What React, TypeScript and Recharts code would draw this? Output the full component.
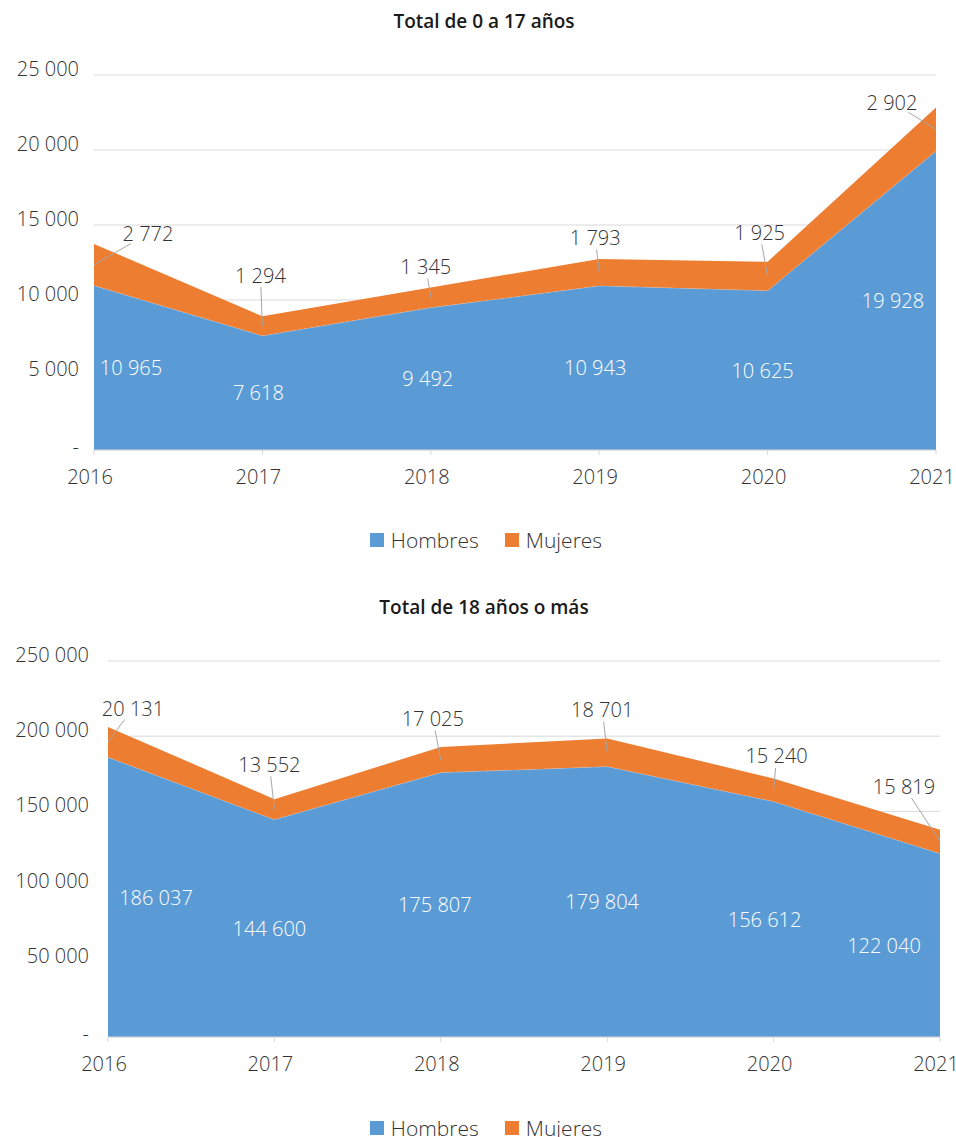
import React from "react";
import { ComposedChart, Area, Line, XAxis, YAxis, CartesianGrid } from "recharts";

const years = ["2016", "2017", "2018", "2019", "2020", "2021"];

const hombresMenores = [10965, 7618, 9492, 10943, 10625, 19928];
const mujeresMenores = [2772, 1294, 1345, 1793, 1925, 2902];
const ticksMenores = [0, 5000, 10000, 15000, 20000, 25000];

const hombresAdultos = [186037, 144600, 175807, 179804, 156612, 122040];
const mujeresAdultos = [20131, 13552, 17025, 18701, 15240, 15819];
const ticksAdultos = [0, 50000, 100000, 150000, 200000, 250000];

const BLUE = "#5B9BD5";
const ORANGE = "#ED7D31";
const TEXT = "#333333";
const GRID = "#d9d9d9";
const FONT = "'Open Sans', 'Noto Sans', sans-serif";

const fmt = (n: number) =>
  n === 0 ? "-" : String(n).replace(/\B(?=(\d{3})+(?!\d))/g, " ");

type ChartProps = {
  title: string;
  top: number;
  height: number;
  margin: { top: number; right: number; bottom: number; left: number };
  yWidth: number;
  yTickMargin: number;
  hombres: number[];
  mujeres: number[];
  ticks: number[];
  hombresDx: number[];
  mujeresOffset: [number, number][];
  titleY: number;
  legendY: number;
};

function StackedChart(p: ChartProps) {
  const data = years.map((year, i) => ({
    year,
    hombres: p.hombres[i],
    mujeres: p.mujeres[i],
  }));

  const YTick = (props: any) => {
    const { x, y, payload } = props;
    const v = payload.value as number;
    return (
      <text
        x={x}
        y={y + (v === 0 ? 4 : 1)}
        textAnchor="end"
        fill={TEXT}
        fontSize={20}
        fontFamily={FONT}
        fontWeight={300}
      >
        {fmt(v)}
      </text>
    );
  };

  const XTick = (props: any) => {
    const { x, y, payload } = props;
    return (
      <text
        x={x - 4}
        y={y}
        dy={19}
        textAnchor="middle"
        dominantBaseline="central"
        fill={TEXT}
        fontSize={20}
        fontFamily={FONT}
        fontWeight={300}
      >
        {payload.value}
      </text>
    );
  };

  const hombresLabel = (props: any) => {
    const { x, y, index } = props;
    return (
      <text
        key={`h-${index}`}
        x={x + p.hombresDx[index]}
        y={y}
        textAnchor="middle"
        dominantBaseline="central"
        fill="#ffffff"
        fontSize={20}
        fontFamily={FONT}
        fontWeight={300}
      >
        {fmt(p.hombres[index])}
      </text>
    );
  };

  const mujeresLabel = (props: any) => {
    const { x, y, index } = props;
    const [dx, dy] = p.mujeresOffset[index];
    const cx = x + dx;
    const cy = y + dy;
    const t = 1 / Math.sqrt((dx / 30) ** 2 + (dy / 12) ** 2);
    const ex = cx - dx * t;
    const ey = cy - dy * t;
    return (
      <g key={`m-${index}`}>
        <line x1={x} y1={y} x2={ex} y2={ey} stroke="#a6a6a6" strokeWidth={1} />
        <text
          x={cx}
          y={cy}
          textAnchor="middle"
          dominantBaseline="central"
          fill={TEXT}
          fontSize={20}
          fontFamily={FONT}
          fontWeight={300}
        >
          {fmt(p.mujeres[index])}
        </text>
      </g>
    );
  };

  const legendItem = (color: string, label: string) => (
    <div style={{ display: "flex", alignItems: "center", margin: "0 13px" }}>
      <div style={{ width: 14, height: 14, background: color, marginRight: 7 }} />
      <span>{label}</span>
    </div>
  );

  return (
    <div style={{ position: "absolute", left: 0, top: p.top, width: 956, height: p.height }}>
      <div
        style={{
          position: "absolute",
          left: 0,
          width: 968,
          top: p.titleY - p.top - 12,
          textAlign: "center",
          fontFamily: FONT,
          fontWeight: 600,
          fontSize: 19,
          color: "#1a1a1a",
          lineHeight: "24px",
        }}
      >
        {p.title}
      </div>
      <ComposedChart width={956} height={p.height} data={data} margin={p.margin}>
        <CartesianGrid horizontal vertical={false} stroke={GRID} strokeWidth={1} />
        <XAxis
          dataKey="year"
          scale="point"
          stroke={GRID}
          tickSize={5}
          tick={<XTick />}
          height={30}
          interval={0}
        />
        <YAxis
          domain={[0, p.ticks[p.ticks.length - 1]]}
          ticks={p.ticks}
          width={p.yWidth}
          axisLine={false}
          tickLine={false}
          tickSize={0}
          tickMargin={p.yTickMargin}
          tick={<YTick />}
        />
        <Area
          type="linear"
          dataKey="hombres"
          stackId="a"
          fill={BLUE}
          fillOpacity={1}
          stroke="#ffffff"
          strokeOpacity={0.5}
          strokeWidth={0.6}
          isAnimationActive={false}
        />
        <Area
          type="linear"
          dataKey="mujeres"
          stackId="a"
          fill={ORANGE}
          fillOpacity={1}
          stroke="none"
          isAnimationActive={false}
        />
        <Line
          dataKey={(d: any) => d.hombres / 2}
          stroke="none"
          dot={false}
          activeDot={false}
          legendType="none"
          label={hombresLabel}
          isAnimationActive={false}
        />
        <Line
          dataKey={(d: any) => d.hombres + d.mujeres / 2}
          stroke="none"
          dot={false}
          activeDot={false}
          legendType="none"
          label={mujeresLabel}
          isAnimationActive={false}
        />
      </ComposedChart>
      <div
        style={{
          position: "absolute",
          left: 0,
          width: 972,
          top: p.legendY - p.top - 12,
          display: "flex",
          justifyContent: "center",
          fontFamily: FONT,
          fontWeight: 300,
          fontSize: 21,
          color: TEXT,
          lineHeight: "24px",
        }}
      >
        {legendItem(BLUE, "Hombres")}
        {legendItem(ORANGE, "Mujeres")}
      </div>
    </div>
  );
}

export default function App() {
  return (
    <div style={{ position: "absolute", left: 0, top: 0, width: 956, height: 1137, background: "#fff" }}>
      <StackedChart
        title="Total de 0 a 17 años"
        top={0}
        height={565}
        margin={{ top: 75, right: 20, bottom: 85, left: 0 }}
        yWidth={94}
        yTickMargin={15}
        hombres={hombresMenores}
        mujeres={mujeresMenores}
        ticks={ticksMenores}
        hombresDx={[37, -4, -3, -4, -5, -43]}
        mujeresOffset={[[54, -31], [-2, -51], [-5, -31], [-4, -35], [-8, -44], [-44, -27]]}
        titleY={21}
        legendY={540}
      />
      <StackedChart
        title="Total de 18 años o más"
        top={600}
        height={537}
        margin={{ top: 61, right: 16, bottom: 70, left: 0 }}
        yWidth={108}
        yTickMargin={19}
        hombres={hombresAdultos}
        mujeres={mujeresAdultos}
        ticks={ticksAdultos}
        hombresDx={[48, -5, -6, -5, -9, -56]}
        mujeresOffset={[[25, -34], [-5, -45], [-8, -41], [-5, -43], [3, -34], [-36, -55]]}
        titleY={607}
        legendY={1128}
      />
    </div>
  );
}
